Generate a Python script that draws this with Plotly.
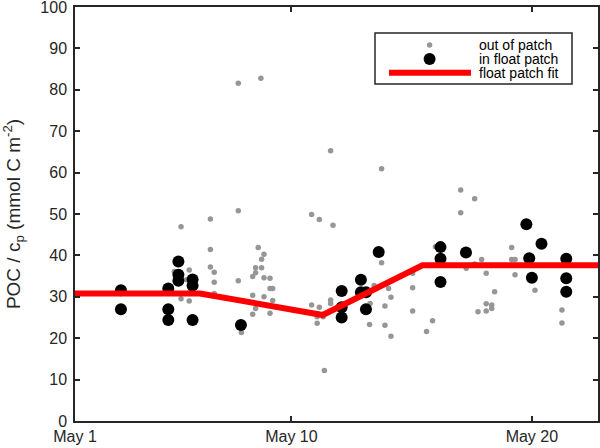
import plotly.graph_objects as go

# day of May (1 = May 1 00:00) and POC / c_p values
out_day = [5.41, 6.63, 7.79, 7.79, 8.73, 6.63, 6.63, 6.79, 6.79, 6.79,
           5.75, 5.13, 5.64, 5.75, 5.41, 5.75, 7.79, 7.92, 8.62, 8.86,
           8.76, 8.51, 8.76, 8.51, 8.39, 8.86, 9.11, 9.11, 9.22, 8.39,
           8.86, 9.22, 8.51, 8.39, 9.11, 10.84, 11.16, 11.73, 11.63, 13.75,
           10.84, 11.16, 11.07, 11.32, 11.07, 11.37, 11.63, 11.63, 13.27, 13.25,
           13.44, 13.75, 14.04, 14.14, 13.89, 13.89, 14.14, 15.04, 15.04, 15.04,
           15.87, 15.62, 15.99, 17.04, 17.62, 17.04, 17.91, 17.62, 17.27, 18.10,
           18.45, 18.10, 18.33, 18.33, 18.10, 17.76, 19.16, 19.16, 19.30, 19.30,
           20.13, 21.25, 21.25]
out_val = [46.9, 48.8, 50.8, 81.6, 82.8, 41.4, 37.2, 35.9, 33.5, 30.8,
           36.5, 36.1, 34.1, 31.0, 29.5, 29.0, 33.9, 21.4, 41.9, 40.3,
           39.1, 37.0, 37.0, 35.8, 34.9, 34.6, 34.5, 32.0, 32.0, 30.4,
           30.0, 29.1, 27.2, 25.8, 26.0, 49.9, 48.7, 47.3, 65.3, 60.9,
           28.0, 27.5, 25.2, 25.2, 23.6, 12.2, 29.2, 28.4, 28.4, 23.3,
           32.7, 38.2, 32.0, 29.9, 27.8, 23.1, 20.5, 35.7, 32.2, 26.6,
           24.2, 21.6, 42.1, 55.8, 53.7, 50.3, 39.0, 37.9, 36.9, 35.7,
           31.2, 28.3, 28.0, 27.2, 26.6, 26.4, 41.9, 39.0, 39.0, 35.3,
           31.6, 26.8, 23.7]

in_day = [2.91, 2.91, 4.88, 4.88, 4.88, 5.30, 5.30, 5.30, 5.89, 5.89,
          5.89, 7.90, 12.09, 12.09, 12.09, 12.89, 12.89, 13.10, 13.10, 13.63,
          16.20, 16.20, 16.20, 17.26, 19.77, 19.89, 20.00, 20.40, 21.43, 21.43,
          21.43]
in_val = [31.6, 27.0, 32.0, 27.0, 24.4, 38.5, 35.3, 33.9, 34.2, 32.7,
          24.4, 23.2, 31.4, 27.5, 25.0, 34.1, 31.1, 31.1, 27.0, 40.8,
          42.0, 39.2, 33.6, 40.7, 47.5, 39.3, 34.6, 42.8, 39.2, 34.5,
          31.2]

fit_day = [1.0, 6.2, 11.3, 15.45, 22.75]
fit_val = [30.8, 30.8, 25.6, 37.6, 37.6]

tick_days = [1, 10, 20]
tick_text = ['May 1', 'May 10', 'May 20']

axis_col = '#262626'
grey = '#969696'
red = '#ff0000'

fig = go.Figure()
fig.add_trace(go.Scatter(x=out_day, y=out_val, mode='markers', name='out of patch',
                         marker=dict(color=grey, size=5.5)))
fig.add_trace(go.Scatter(x=in_day, y=in_val, mode='markers', name='in float patch',
                         marker=dict(color='black', size=12)))
fig.add_trace(go.Scatter(x=fit_day, y=fit_val, mode='lines', name='float patch fit',
                         line=dict(color=red, width=6)))

# matlab-style compact legend box (plotly's own legend rows are too tall)
lx_sym, lx_txt = 0.678, 0.7686
row_y = [0.9082, 0.8744, 0.8413]
shapes = [
    dict(type='rect', xref='paper', yref='paper', x0=0.5736, x1=0.9503, y0=0.814, y1=0.9372,
         line=dict(color=axis_col, width=1.5), fillcolor='white', layer='above'),
    dict(type='circle', xref='paper', yref='paper', xsizemode='pixel', ysizemode='pixel',
         xanchor=lx_sym, yanchor=row_y[0], x0=-2.75, x1=2.75, y0=-2.75, y1=2.75,
         fillcolor=grey, line=dict(width=0), layer='above'),
    dict(type='circle', xref='paper', yref='paper', xsizemode='pixel', ysizemode='pixel',
         xanchor=lx_sym, yanchor=row_y[1], x0=-6, x1=6, y0=-6, y1=6,
         fillcolor='black', line=dict(width=0), layer='above'),
    dict(type='line', xref='paper', yref='paper', x0=0.6004, x1=0.7572, y0=row_y[2], y1=row_y[2],
         line=dict(color=red, width=6), layer='above'),
]
annotations = [dict(text=tr.name, xref='paper', yref='paper', x=lx_txt, y=yy,
                    xanchor='left', yanchor='middle', showarrow=False,
                    font=dict(size=14, color='black'))
               for tr, yy in zip(fig.data, row_y)]

fig.update_layout(
    width=600, height=448,
    margin=dict(l=75, r=2, t=7, b=27),
    plot_bgcolor='white', paper_bgcolor='white',
    font=dict(family='Liberation Sans, Arial, sans-serif', size=16, color=axis_col),
    showlegend=False,
    shapes=shapes, annotations=annotations,
)
fig.update_xaxes(range=[1, 22.75], tickvals=tick_days, ticktext=tick_text,
                 ticks='inside', ticklen=5, tickwidth=1.5, tickcolor=axis_col,
                 showline=True, linecolor=axis_col, linewidth=1.5, mirror='ticks',
                 showgrid=False, zeroline=False, automargin=False, ticklabeloverflow='allow')
fig.update_yaxes(range=[0, 100], dtick=10, title_text='POC / c<sub>p</sub> (mmol C m<sup>-2</sup>)',
                 ticks='inside', ticklen=5, tickwidth=1.5, tickcolor=axis_col,
                 showline=True, linecolor=axis_col, linewidth=1.5, mirror='ticks',
                 showgrid=False, zeroline=False, title_standoff=20, automargin=False,
                 ticklabeloverflow='allow', ticklabelstandoff=3)

# page body has a default 8px margin; drop it so the figure sits at 0,0
fig.write_html("out.html", config={'displayModeBar': False},
               post_script="document.body.style.margin='0';")
